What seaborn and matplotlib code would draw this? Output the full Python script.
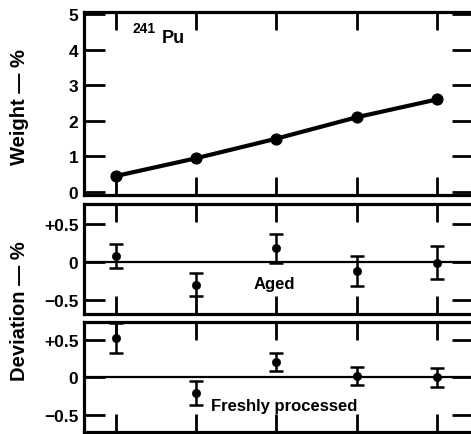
import matplotlib
matplotlib.use("Agg")
import matplotlib.pyplot as plt
import seaborn as sns
import pandas as pd

sns.set_style("ticks")
plt.rcParams['font.family'] = ['Liberation Sans', 'DejaVu Sans']
plt.rcParams['font.weight'] = 'bold'
for k in ('text.color', 'xtick.color', 'ytick.color', 'axes.labelcolor', 'axes.edgecolor'):
    plt.rcParams[k] = 'black'

# data
x_pos = [1, 2, 3, 4, 5]
weight = [0.45, 0.95, 1.5, 2.1, 2.6]
aged_dev = [0.08, -0.30, 0.18, -0.12, -0.01]
aged_err = [0.16, 0.15, 0.19, 0.20, 0.22]
fresh_dev = [0.52, -0.21, 0.20, 0.02, 0.00]
fresh_err = [0.20, 0.16, 0.12, 0.12, 0.13]
weight_ticks = [0, 1, 2, 3, 4, 5]
weight_labels = ["0", "1", "2", "3", "4", "5"]
dev_ticks = [-0.5, 0, 0.5]
aged_labels = ["−0.5", "0", "+0.5"]
fresh_labels = ["−0.5", "0", "+0.5"]

W, H = 471, 435
fig = plt.figure(figsize=(W / 100, H / 100), dpi=100)

def box(l, t, r, b):
    return [l / W, 1 - b / H, (r - l) / W, (b - t) / H]

ax1 = fig.add_axes(box(84, 13, 473, 196))
ax2 = fig.add_axes(box(84, 205, 473, 315))
ax3 = fig.add_axes(box(84, 323, 473, 433))

lw = 2.3
for ax in (ax1, ax2, ax3):
    for s in ax.spines.values():
        s.set_visible(True)
        s.set_linewidth(lw)
        s.set_color("black")
    ax.set_xlim(0.6, 5.45)
    ax.set_xticks(x_pos)
    ax.set_xticklabels([])
    ax.tick_params(axis="x", direction="in", top=True, bottom=True,
                   length=13, width=2, color="black")
    ax.tick_params(axis="y", direction="in", left=True, right=True,
                   length=15, width=2, color="black", labelcolor="black",
                   labelsize=12.5, pad=4)
    ax.set_facecolor("white")

# top panel
df_w = pd.DataFrame({"x": x_pos, "w": weight})
sns.lineplot(data=df_w, x="x", y="w", ax=ax1, color="black", lw=3,
             marker="o", markersize=8, markeredgecolor="black")
ax1.set_ylim(-0.084, 5.056)
ax1.set_yticks(weight_ticks)
ax1.set_yticklabels(weight_labels)
ax1.set_xlabel("")
ax1.set_ylabel("")
ax1.text(1.2, 4.6, "241", fontsize=10, fontweight="bold", color="black",
         ha="left", va="center")
ax1.text(1.57, 4.33, "Pu", fontsize=13, fontweight="bold", color="black",
         ha="left", va="center")

def dev_panel(ax, vals, errs, labels, ylim, txt, txy):
    ax.axhline(0, color="black", lw=1.6, zorder=1)
    ax.errorbar(x_pos, vals, yerr=errs, fmt="none", ecolor="black",
                elinewidth=1.8, capsize=5, capthick=1.8, zorder=2)
    df = pd.DataFrame({"x": x_pos, "d": vals})
    sns.scatterplot(data=df, x="x", y="d", ax=ax, color="black", s=35,
                    edgecolor="black", zorder=3)
    ax.set_ylim(*ylim)
    ax.set_yticks(dev_ticks)
    ax.set_yticklabels(labels)
    ax.set_xlabel("")
    ax.set_ylabel("")
    ax.text(txy[0], txy[1], txt, fontsize=12, fontweight="bold", color="black",
            ha="left", va="center")

dev_panel(ax2, aged_dev, aged_err, aged_labels, (-0.693, 0.773), "Aged", (2.72, -0.29))
dev_panel(ax3, fresh_dev, fresh_err, fresh_labels, (-0.73, 0.74), "Freshly processed", (2.18, -0.37))

fig.text(20 / W, 1 - 107 / H, "Weight — %", rotation=90, fontsize=14.5,
         fontweight="bold", color="black", ha="center", va="center")
fig.text(20 / W, 1 - 311 / H, "Deviation — %", rotation=90, fontsize=14.5,
         fontweight="bold", color="black", ha="center", va="center")

fig.savefig("out.png", dpi=100)
